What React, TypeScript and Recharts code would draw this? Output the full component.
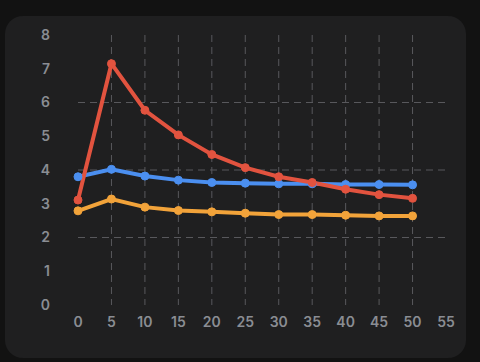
import React from "react";
import { LineChart, Line, XAxis, YAxis, CartesianGrid } from "recharts";

const xValues = [0, 5, 10, 15, 20, 25, 30, 35, 40, 45, 50];
const redSeries = [3.11, 7.15, 5.77, 5.04, 4.46, 4.07, 3.8, 3.63, 3.43, 3.27, 3.16];
const blueSeries = [3.8, 4.02, 3.82, 3.7, 3.63, 3.61, 3.59, 3.59, 3.57, 3.57, 3.56];
const orangeSeries = [2.79, 3.14, 2.9, 2.8, 2.76, 2.72, 2.68, 2.68, 2.66, 2.64, 2.64];
const xTicks = [0, 5, 10, 15, 20, 25, 30, 35, 40, 45, 50, 55];
const yTicks = [0, 1, 2, 3, 4, 5, 6, 7, 8];
const gridX = [5, 10, 15, 20, 25, 30, 35, 40, 45, 50];
const gridY = [2, 4, 6];

const data = xValues.map((x, i) => ({
  x,
  red: redSeries[i],
  blue: blueSeries[i],
  orange: orangeSeries[i],
}));

const tickStyle = { fill: "#8a8d93", fontSize: 14, fontFamily: "Inter, 'Noto Sans', sans-serif", fontWeight: 600 };

export default function App() {
  return (
    <div style={{ position: "fixed", left: 0, top: 0, width: 480, height: 362, background: "#121212", overflow: "hidden" }}>
      <div style={{ position: "absolute", left: 5, top: 16, width: 461, height: 342, background: "#1f1f20", borderRadius: 18 }} />
      <div style={{ position: "absolute", left: 0, top: 0 }}>
        <LineChart width={480} height={362} data={data} margin={{ top: 35, right: 34, bottom: 27, left: 38 }}>
          <CartesianGrid
            stroke="#58585c"
            strokeDasharray="7 5"
            strokeWidth={1}
            horizontalValues={gridY}
            verticalValues={gridX}
          />
          <XAxis
            dataKey="x"
            type="number"
            domain={[0, 55]}
            ticks={xTicks}
            axisLine={false}
            tickLine={false}
            tickSize={0}
            tickMargin={12}
            height={30}
            tick={tickStyle}
            interval={0}
          />
          <YAxis
            type="number"
            domain={[0, 8]}
            ticks={yTicks}
            axisLine={false}
            tickLine={false}
            tickSize={0}
            tickMargin={28}
            width={40}
            tick={tickStyle}
            interval={0}
          />
          <Line dataKey="orange" stroke="#f2a33a" strokeWidth={4} dot={{ r: 4, fill: "#f2a33a", stroke: "#f2a33a", strokeWidth: 1 }} isAnimationActive={false} />
          <Line dataKey="blue" stroke="#4b8ff0" strokeWidth={4} dot={{ r: 4, fill: "#4b8ff0", stroke: "#4b8ff0", strokeWidth: 1 }} isAnimationActive={false} />
          <Line dataKey="red" stroke="#e2533f" strokeWidth={4} dot={{ r: 4, fill: "#e2533f", stroke: "#e2533f", strokeWidth: 1 }} isAnimationActive={false} />
        </LineChart>
      </div>
    </div>
  );
}
